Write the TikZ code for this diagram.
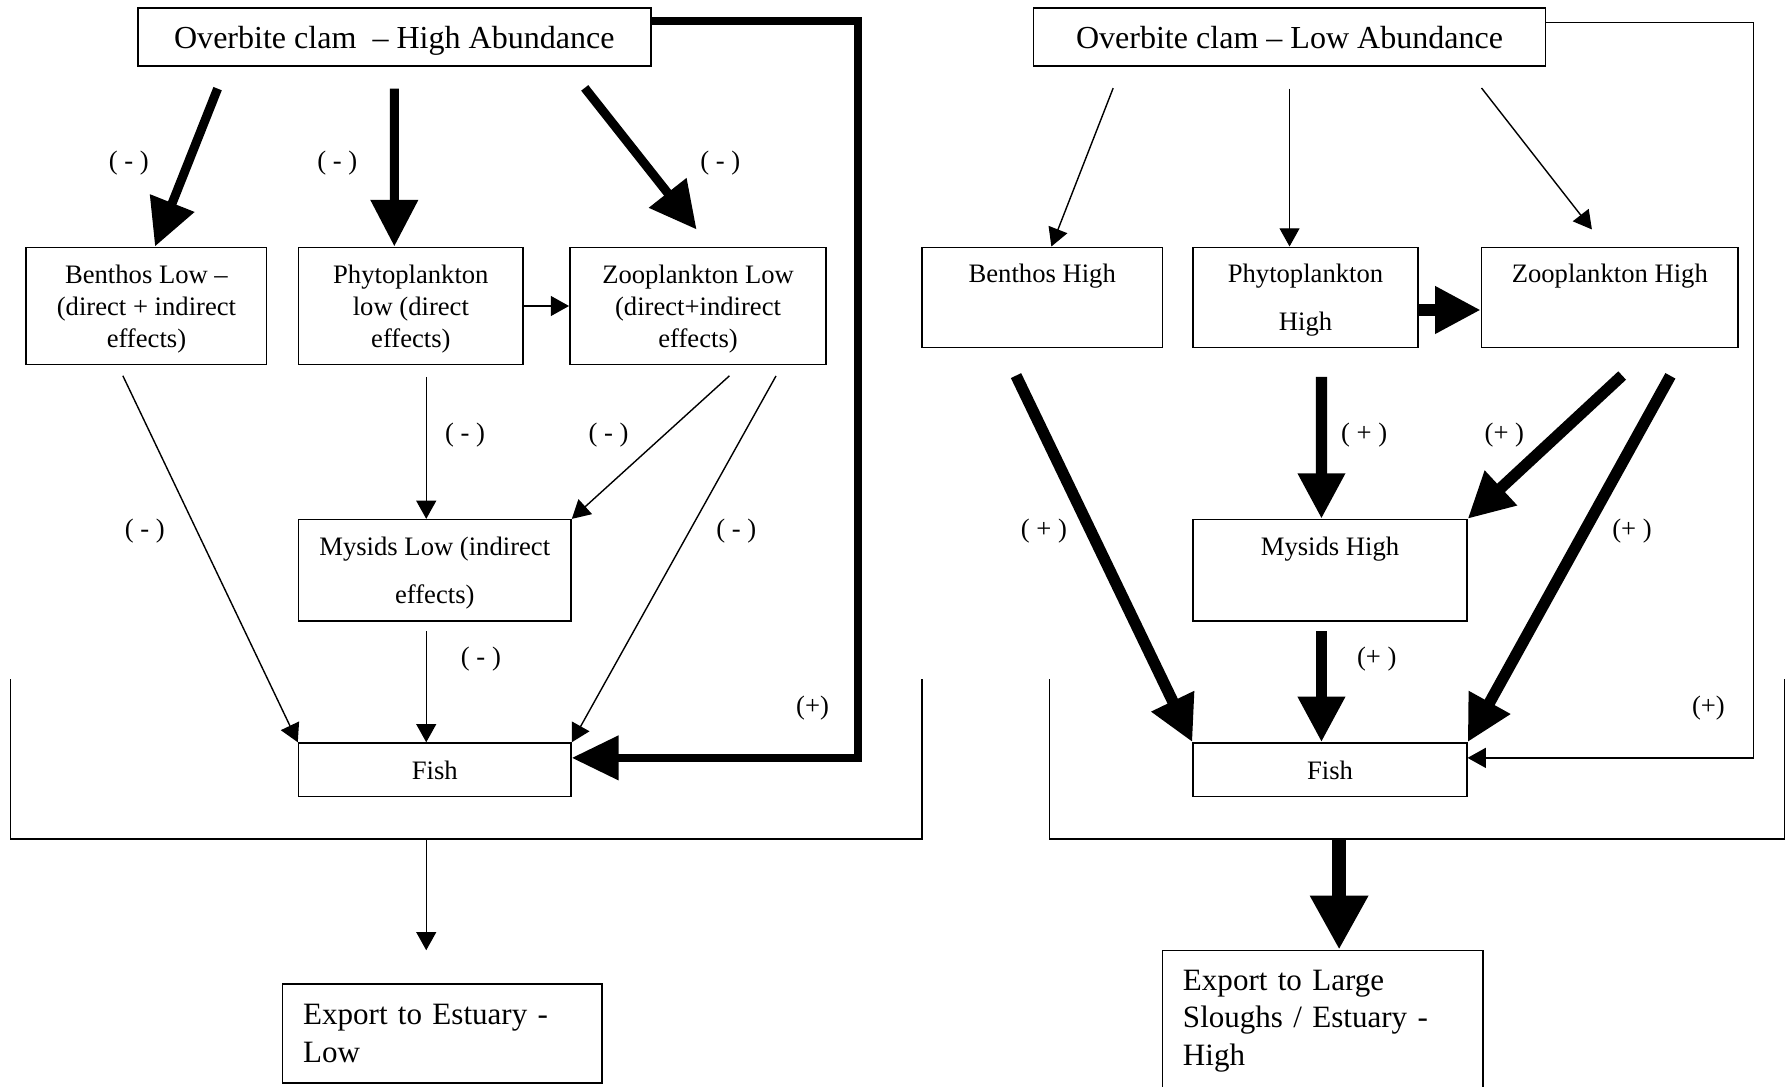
\documentclass[tikz,border=0pt]{standalone}
\usepackage{fontspec}
\setmainfont{Liberation Serif}
\usetikzlibrary{arrows.meta,positioning}

\begin{document}
\begin{tikzpicture}[
  clam/.style={draw,line width=0.8pt,minimum width=9cm,minimum height=1.02cm,
               inner sep=0pt,text depth=0pt,font=\fontsize{16}{19}\selectfont},
  cell/.style={draw,line width=0.8pt,inner sep=0pt,align=center,text depth=0pt,
               font=\fontsize{13.3}{15.9}\selectfont},
  tall/.style={cell,font=\fontsize{13.3}{23.8}\selectfont},
  export/.style={draw,line width=0.8pt,inner xsep=0.36cm,inner ysep=0pt,align=left,
                 font=\fontsize{15.5}{18.8}\selectfont},
  sign/.style={inner sep=0pt,font=\fontsize{13.3}{15.9}\selectfont},
  link/.style={-{Triangle[length=0.32cm,width=0.35cm]},line width=0.7pt},
  boldlink/.style={-{Triangle[length=0.82cm,width=0.8cm]},line width=4.5pt},
  heavylink/.style={-{Triangle[length=0.8cm,width=0.78cm]},line width=5.7pt}
]
\useasboundingbox (0,0) rectangle (31.36,-19.06);

% High abundance (left)
\node[clam] (clamHi) at (6.92,-0.65) {Overbite clam\ \ \textendash\ High Abundance};
\node[cell,minimum width=4.22cm,minimum height=2.06cm] (benLo) at (2.57,-5.37)
  {Benthos Low \textendash\\(direct + indirect\\effects)};
\node[cell,minimum width=3.94cm,minimum height=2.06cm] (phyLo) at (7.21,-5.37)
  {Phytoplankton\\low (direct\\effects)};
\node[cell,minimum width=4.5cm,minimum height=2.06cm] (zooLo) at (12.25,-5.37)
  {Zooplankton Low\\(direct+indirect\\effects)};
\node[tall,minimum width=4.78cm,minimum height=1.78cm] (mysLo) at (7.63,-10.01)
  {Mysids Low (indirect\\effects)};
\node[cell,minimum width=4.78cm,minimum height=0.94cm] (fishLo) at (7.63,-13.51) {Fish};
\node[export,text width=4.88cm,minimum height=1.74cm] (expLo) at (7.76,-18.14)
  {Export to Estuary -\\Low};

% Low abundance (right)
\node[clam,minimum width=8.98cm] (clamLo) at (22.63,-0.65) {Overbite clam \textendash\ Low Abundance};
\node[tall,minimum width=4.22cm,minimum height=1.76cm] (benHi) at (18.29,-5.22)
  {Benthos High\\\vphantom{Hg}};
\node[tall,minimum width=3.94cm,minimum height=1.76cm] (phyHi) at (22.91,-5.22)
  {Phytoplankton\\High};
\node[tall,minimum width=4.5cm,minimum height=1.76cm] (zooHi) at (28.25,-5.22)
  {Zooplankton High\\\vphantom{Hg}};
\node[tall,minimum width=4.8cm,minimum height=1.78cm] (mysHi) at (23.34,-10.01)
  {Mysids High\\\vphantom{Hg}};
\node[cell,minimum width=4.8cm,minimum height=0.94cm] (fishHi) at (23.34,-13.51) {Fish};
\node[export,text width=4.9cm,minimum height=2.48cm] (expHi) at (23.21,-17.92)
  {Export to Large\\Sloughs / Estuary -\\High};

% Signs
\node[sign] (sb) at (2.26,-2.86) {( - )};
\node[sign] (sp) at (5.92,-2.86) {( - )};
\node[sign] (sz) at (12.64,-2.86) {( - )};
\node[sign] (spm) at (8.16,-7.64) {( - )};
\node[sign] (szm) at (10.68,-7.64) {( - )};
\node[sign] (sbf) at (2.54,-9.32) {( - )};
\node[sign] (szf) at (12.92,-9.32) {( - )};
\node[sign] (smf) at (8.44,-11.56) {( - )};
\node[sign] (scf) at (14.26,-12.42) {(+)};
\node[sign] (Spm) at (23.94,-7.64) {( + )};
\node[sign] (Szm) at (26.4,-7.64) {(+ )};
\node[sign] (Sbf) at (18.32,-9.32) {( + )};
\node[sign] (Szf) at (28.64,-9.32) {(+ )};
\node[sign] (Smf) at (24.16,-11.56) {(+ )};
\node[sign] (Scf) at (29.98,-12.42) {(+)};

% Arrows, left
\draw[boldlink,shorten <=0.41cm] ([xshift=-2.95cm]clamHi.south) -- ([xshift=0.15cm]benLo.north);
\draw[boldlink,shorten <=0.38cm] (clamHi.south) -- ([xshift=-0.29cm]phyLo.north);
\draw[boldlink,shorten <=0.47cm,shorten >=0.38cm] ([xshift=3.05cm]clamHi.south) -- ([xshift=0.21cm]zooLo.north);
\draw[link] (phyLo.east) -- (zooLo.west);
\draw[link,shorten <=0.2cm] ([xshift=-0.5cm]benLo.south) -- (fishLo.north west);
\draw[link,shorten <=0.2cm] ([xshift=0.27cm]phyLo.south) -- ([xshift=-0.15cm]mysLo.north);
\draw[link,shorten <=0.27cm] ([xshift=0.75cm]zooLo.south) -- (mysLo.north east);
\draw[link,shorten <=0.21cm] ([xshift=1.47cm]zooLo.south) -- (fishLo.north east);
\draw[link,shorten <=0.16cm] ([xshift=-0.15cm]mysLo.south) -- ([xshift=-0.15cm]fishLo.north);
\draw[line width=4pt,-{Triangle[length=0.82cm,width=0.75cm]}]
  ([yshift=0.28cm]clamHi.east) -- ++(3.62,0) |- ([yshift=0.21cm]fishLo.east);

\draw[line width=0.7pt] (0.18,-11.92) |- (16.18,-14.72) -- (16.18,-11.92);
\coordinate (outLo) at (7.48,-14.72);
\draw[link,shorten >=0.58cm] (outLo) -- ([xshift=-0.28cm]expLo.north);

% Arrows, right
\draw[link,shorten <=0.4cm] ([xshift=-2.95cm]clamLo.south) -- ([xshift=0.16cm]benHi.north);
\draw[link,shorten <=0.38cm] (clamLo.south) -- ([xshift=-0.28cm]phyHi.north);
\draw[link,shorten <=0.47cm,shorten >=0.38cm] ([xshift=3.08cm]clamLo.south) -- ([xshift=-0.08cm]zooHi.north);
\draw[heavylink] ([yshift=-0.22cm]phyHi.east) -- ([yshift=-0.22cm]zooHi.west);
\draw[heavylink,shorten <=0.53cm] ([xshift=-0.69cm]benHi.south) -- (fishHi.north west);
\draw[heavylink,shorten <=0.5cm] ([xshift=0.28cm]phyHi.south) -- ([xshift=-0.15cm]mysHi.north);
\draw[heavylink,shorten <=0.7cm] ([xshift=0.73cm]zooHi.south) -- (mysHi.north east);
\draw[heavylink,shorten <=0.55cm] ([xshift=1.33cm]zooHi.south) -- (fishHi.north east);
\draw[heavylink,shorten <=0.16cm] ([xshift=-0.15cm]mysHi.south) -- ([xshift=-0.15cm]fishHi.north);
\draw[link] ([yshift=0.25cm]clamLo.east) -- ++(3.64,0) |- ([yshift=0.21cm]fishHi.east);

\draw[line width=0.7pt] (18.42,-11.92) |- (31.32,-14.72) -- (31.32,-11.92);
\coordinate (outHi) at (23.5,-14.72);
\draw[line width=6.8pt,-{Triangle[length=0.95cm,width=0.96cm]}] (outHi) -- ([xshift=0.29cm]expHi.north);

\end{tikzpicture}
\end{document}
